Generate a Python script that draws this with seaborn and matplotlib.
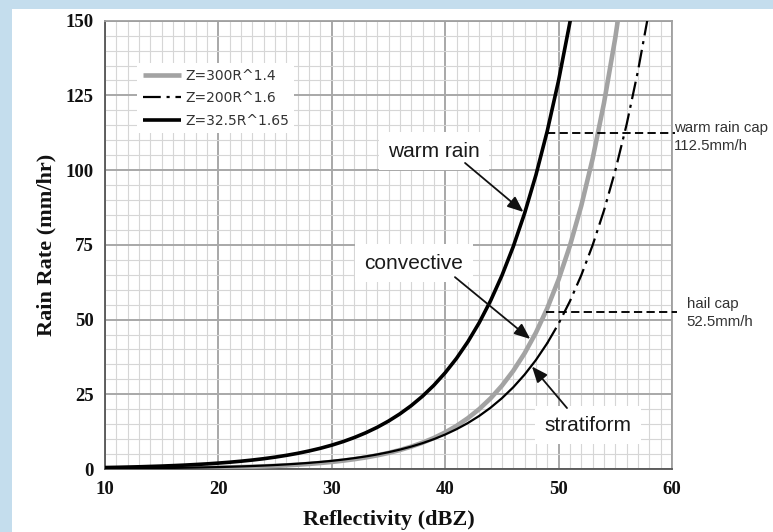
import numpy as np
import pandas as pd
import matplotlib
matplotlib.use("Agg")
import matplotlib.pyplot as plt
import seaborn as sns
from matplotlib.lines import Line2D
from matplotlib.patches import Rectangle
from matplotlib.ticker import MultipleLocator

# ---------------- data ----------------
dbz_warm = list(range(10, 53))
rate_warm = [0.49, 0.56, 0.65, 0.74, 0.86, 0.98, 1.13, 1.30, 1.50, 1.72,
             1.98, 2.27, 2.61, 3.00, 3.45, 3.97, 4.57, 5.25, 6.04, 6.94,
             7.98, 9.17, 10.55, 12.13, 13.94, 16.03, 18.43, 21.19, 24.36, 28.01,
             32.21, 37.03, 42.58, 48.95, 56.28, 64.71, 74.40, 85.54, 98.36, 113.09,
             130.03, 149.50, 171.9]

dbz_conv = list(range(10, 57))
rate_conv = [0.088, 0.104, 0.122, 0.144, 0.170, 0.200, 0.236, 0.279, 0.328, 0.387,
             0.456, 0.538, 0.634, 0.747, 0.881, 1.038, 1.224, 1.443, 1.701, 2.005,
             2.363, 2.786, 3.284, 3.871, 4.562, 5.378, 6.340, 7.473, 8.809, 10.38,
             12.24, 14.43, 17.01, 20.05, 23.63, 27.86, 32.84, 38.71, 45.62, 53.78,
             63.40, 74.73, 88.09, 103.8, 122.4, 144.3, 170.1]

dbz_strat = list(range(10, 59))
rate_strat = [0.154, 0.178, 0.205, 0.237, 0.273, 0.316, 0.365, 0.421, 0.486, 0.562,
              0.648, 0.749, 0.865, 0.999, 1.153, 1.332, 1.538, 1.776, 2.051, 2.368,
              2.734, 3.158, 3.646, 4.211, 4.863, 5.615, 6.484, 7.488, 8.647, 9.985,
              11.53, 13.32, 15.38, 17.76, 20.51, 23.68, 27.34, 31.58, 36.46, 42.11,
              48.63, 56.15, 64.84, 74.88, 86.47, 99.85, 115.3, 133.2, 153.8]
# the stratiform curve is drawn solid at low rates and dash-dot above this reflectivity
strat_dash_from = 49

legend_labels = ["Z=300R^1.4", "Z=200R^1.6", "Z=32.5R^1.65"]

x_ticks = [10, 20, 30, 40, 50, 60]
y_ticks = [0, 25, 50, 75, 100, 125, 150]

# rain-rate caps: value, start/end reflectivity, label
cap_values = [112.5, 52.5]
cap_x_start = [48.95, 48.85]
cap_x_end = [60.3, 60.4]
cap_labels = ["warm rain cap\n112.5mm/h", "hail cap\n52.5mm/h"]
cap_label_pos = [(60.2, 111.2), (61.3, 52.2)]

# curve annotations: text, text centre, arrow tail, arrow head
ann_texts = ["warm rain", "convective", "stratiform"]
ann_text_pos = [(39.0, 106.4), (37.25, 68.9), (52.6, 14.7)]
ann_tail = [(41.75, 102.4), (40.86, 64.2), (50.74, 20.4)]
ann_head = [(46.9, 86.0), (47.5, 43.5), (47.65, 34.3)]

# ---------------- styling ----------------
sns.set_theme(style="white")
plt.rcParams["font.family"] = ["DejaVu Sans"]

BG_BLUE = "#c4dded"
fig = plt.figure(figsize=(7.73, 5.32), dpi=100, facecolor=BG_BLUE)
fig.patches.append(Rectangle((12 / 773, 0), 1 - 12 / 773, (532 - 9) / 532,
                             transform=fig.transFigure, facecolor="white",
                             edgecolor="none", zorder=-10))
ax = fig.add_axes([105 / 773, (532 - 469) / 532, (672 - 105) / 773, (469 - 20.7) / 532])
ax.set_zorder(1)
ax.set_facecolor("white")

df_w = pd.DataFrame({"dbz": dbz_warm, "rate": rate_warm})
df_c = pd.DataFrame({"dbz": dbz_conv, "rate": rate_conv})
df_s = pd.DataFrame({"dbz": dbz_strat, "rate": rate_strat})

conv_kw = dict(color="#a3a3a3", lw=3.3, solid_capstyle="butt")
strat_kw = dict(color="black", lw=1.6, dashes=(8, 2.6, 1.4, 2.6))
strat_solid_kw = dict(color="black", lw=1.6)
warm_kw = dict(color="black", lw=2.6, solid_capstyle="butt")

sns.lineplot(data=df_c, x="dbz", y="rate", ax=ax, estimator=None, sort=True, zorder=4, **conv_kw)
sns.lineplot(data=df_s[df_s.dbz <= strat_dash_from], x="dbz", y="rate", ax=ax,
             estimator=None, sort=True, zorder=5, **strat_solid_kw)
sns.lineplot(data=df_s[df_s.dbz >= strat_dash_from], x="dbz", y="rate", ax=ax,
             estimator=None, sort=True, zorder=5, **strat_kw)
sns.lineplot(data=df_w, x="dbz", y="rate", ax=ax, estimator=None, sort=True, zorder=6, **warm_kw)

ax.set_xlim(10, 60)
ax.set_ylim(0, 150)
ax.set_xticks(x_ticks)
ax.set_yticks(y_ticks)
ax.xaxis.set_minor_locator(MultipleLocator(1))
ax.yaxis.set_minor_locator(MultipleLocator(5))
ax.set_axisbelow(True)
ax.grid(which="minor", color="#d6d6d6", lw=0.8)
ax.grid(which="major", color="#a8a8a8", lw=1.4)

tick_font = dict(family="Liberation Serif", weight="bold", size=13.5)
ax.set_xticklabels([str(v) for v in x_ticks], fontdict=tick_font, color="#111")
ax.set_yticklabels([str(v) for v in y_ticks], fontdict=tick_font, color="#111")
ax.tick_params(axis="both", which="major", direction="out", length=5, width=1, color="#444", pad=4)
ax.tick_params(axis="y", which="major", pad=3)
ax.tick_params(axis="y", which="minor", direction="out", length=5, width=1, color="#444")
ax.tick_params(axis="x", which="minor", length=0)

ax.set_xlabel("Reflectivity (dBZ)", family="Liberation Serif", weight="bold", size=16, color="#111", labelpad=8)
ax.set_ylabel("Rain Rate (mm/hr)", family="Liberation Serif", weight="bold", size=16, color="#111", labelpad=7)

for side in ["left", "bottom"]:
    ax.spines[side].set_color("#555555")
    ax.spines[side].set_linewidth(1.3)
for side in ["top", "right"]:
    ax.spines[side].set_color("#a0a0a0")
    ax.spines[side].set_linewidth(1.3)
    ax.spines[side].set_visible(True)

# caps
for val, x0, x1, lab, pos in zip(cap_values, cap_x_start, cap_x_end, cap_labels, cap_label_pos):
    ax.plot([x0, x1], [val, val], color="black", lw=1.35, dashes=(4.4, 2.3), clip_on=False, zorder=7)
    ax.text(pos[0], pos[1], lab, ha="left", va="center", fontsize=10.8,
            family="Liberation Sans", color="#333333", linespacing=1.35, clip_on=False)

# annotations
for txt, tp, tail, head in zip(ann_texts, ann_text_pos, ann_tail, ann_head):
    ax.text(tp[0], tp[1], txt, ha="center", va="center", fontsize=15,
            family="Liberation Sans", color="#1a1a1a", zorder=8,
            bbox=dict(boxstyle="square,pad=0.45", facecolor="white", edgecolor="none"))
    ax.annotate("", xy=head, xytext=tail,
                arrowprops=dict(arrowstyle="-|>,head_length=0.8,head_width=0.33",
                                color="#111111", lw=1.3, shrinkA=0, shrinkB=0),
                zorder=9)

# legend
handles = [Line2D([], [], **conv_kw),
           Line2D([], [], **strat_kw),
           Line2D([], [], **warm_kw)]
leg = ax.legend(handles, legend_labels, loc="upper left",
                bbox_to_anchor=((137 - 105) / 567, (469 - 63) / 448.3),
                frameon=True, fancybox=False, framealpha=1, facecolor="white",
                edgecolor="none", borderaxespad=0, borderpad=0.4,
                handlelength=2.8, handletextpad=0.25, labelspacing=0.62,
                prop=dict(family="DejaVu Sans", size=10))
for t in leg.get_texts():
    t.set_color("#333333")
leg.set_zorder(10)

fig.savefig("out.png", dpi=100, facecolor=BG_BLUE)
